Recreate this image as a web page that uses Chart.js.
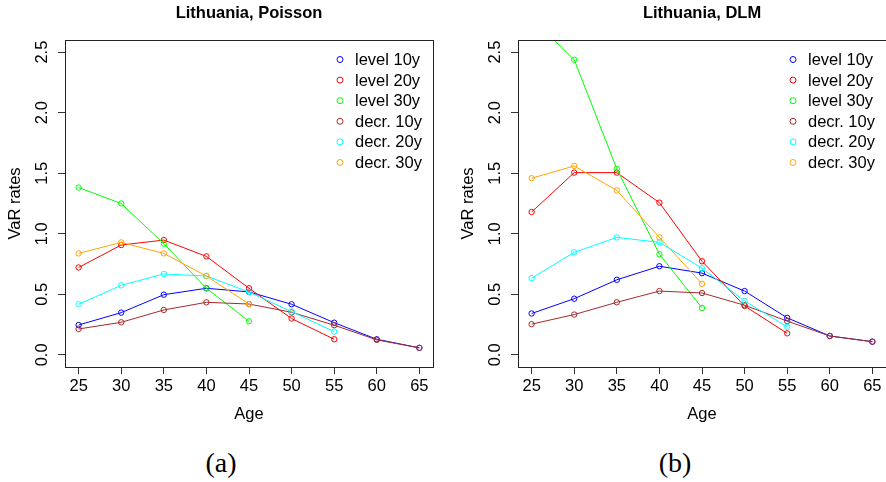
<!DOCTYPE html>
<html lang="en">
<head>
  <meta charset="UTF-8">
  <title>Lithuania VaR rates</title>
  <script src="https://cdn.jsdelivr.net/npm/chart.js"></script>
  <style>
    body {
      margin: 0;
      width: 886px;
      height: 482px;
      overflow: hidden;
      background: #fff;
      position: relative;
    }
    canvas {
      position: absolute;
      top: 0;
    }
    #left { left: 0; }
    #right { left: 453px; }
    .caption {
      position: absolute;
      top: 448px;
      width: 100px;
      height: 30px;
      line-height: 30px;
      text-align: center;
      font-family: "Liberation Serif", "Times New Roman", serif;
      font-size: 28px;
      color: #000;
    }
  </style>
</head>
<body>
  <canvas id="left" width="443" height="440"></canvas>
  <canvas id="right" width="443" height="440"></canvas>
  <div class="caption" style="left:171px">(a)</div>
  <div class="caption" style="left:625px">(b)</div>

  <script>
    // ages on the x axis and tick values
    const ages = [25, 30, 35, 40, 45, 50, 55, 60, 65];
    const yTicks = [0, 0.5, 1, 1.5, 2, 2.5];

    const seriesNames = ["level 10y", "level 20y", "level 30y", "decr. 10y", "decr. 20y", "decr. 30y"];
    const seriesColors = ["#0000FF", "#FF0000", "#00FF00", "#A52A2A", "#00FFFF", "#FFA500"];

    // Poisson (a)
    const poissonLevel10 = [0.247, 0.349, 0.497, 0.55, 0.52, 0.418, 0.266, 0.129, 0.058];
    const poissonLevel20 = [0.722, 0.907, 0.948, 0.813, 0.55, 0.30, 0.129, null, null];
    const poissonLevel30 = [1.382, 1.25, 0.918, 0.55, 0.277, null, null, null, null];
    const poissonDecr10 = [0.214, 0.269, 0.371, 0.434, 0.42, 0.352, 0.245, 0.124, 0.058];
    const poissonDecr20 = [0.418, 0.574, 0.668, 0.651, 0.519, 0.357, 0.192, null, null];
    const poissonDecr30 = [0.838, 0.929, 0.838, 0.651, 0.42, null, null, null, null];

    // DLM (b)
    const dlmLevel10 = [0.342, 0.464, 0.62, 0.732, 0.675, 0.527, 0.306, 0.156, 0.109];
    const dlmLevel20 = [1.18, 1.505, 1.505, 1.257, 0.773, 0.404, 0.178, null, null];
    const dlmLevel30 = [2.78, 2.437, 1.536, 0.831, 0.388, null, null, null, null];
    const dlmDecr10 = [0.254, 0.333, 0.434, 0.527, 0.511, 0.41, 0.279, 0.156, 0.109];
    const dlmDecr20 = [0.634, 0.847, 0.97, 0.929, 0.716, 0.445, 0.232, null, null];
    const dlmDecr30 = [1.459, 1.56, 1.358, 0.97, 0.587, null, null, null, null];

    const sans = '"Liberation Sans", Arial, sans-serif';
    const fontSize = 16.5;

    // box, title, rotated y labels and the in-plot legend
    const framePlugin = {
      id: "frame",
      afterDraw(chart, args, opts) {
        const ctx = chart.ctx;
        const a = chart.chartArea;
        const yScale = chart.scales.y;
        ctx.save();

        ctx.strokeStyle = "#222";
        ctx.lineWidth = 1;
        ctx.strokeRect(Math.round(a.left) + 0.5, Math.round(a.top) + 0.5,
          Math.round(a.right - a.left), Math.round(a.bottom - a.top));

        ctx.fillStyle = "#000";
        ctx.textAlign = "center";
        ctx.textBaseline = "middle";
        ctx.font = "bold " + fontSize + "px " + sans;
        ctx.fillText(opts.text, (a.left + a.right) / 2, 13.5);

        ctx.font = fontSize + "px " + sans;
        yTicks.forEach(v => {
          ctx.save();
          ctx.translate(42.7, yScale.getPixelForValue(v));
          ctx.rotate(-Math.PI / 2);
          ctx.fillText(v.toFixed(1), 0, 0);
          ctx.restore();
        });

        ctx.textAlign = "left";
        chart.data.datasets.forEach((ds, i) => {
          const ly = a.top + 19.5 + i * 20.6;
          ctx.beginPath();
          ctx.strokeStyle = ds.borderColor;
          ctx.lineWidth = 1;
          ctx.arc(a.right - 93, ly, 3, 0, Math.PI * 2);
          ctx.stroke();
          ctx.fillStyle = "#000";
          ctx.fillText(ds.label, a.right - 78, ly + 1);
        });
        ctx.restore();
      }
    };

    function makeChart(id, titleText, series) {
      const datasets = series.map((values, i) => ({
        label: seriesNames[i],
        data: ages.map((age, j) => ({ x: age, y: values[j] })),
        borderColor: seriesColors[i],
        pointBorderColor: seriesColors[i],
        pointBackgroundColor: "rgba(0,0,0,0)",
        borderWidth: 1,
        pointRadius: 2.7,
        pointBorderWidth: 1,
        order: series.length - i,
        spanGaps: false
      }));

      return new Chart(document.getElementById(id), {
        type: "line",
        data: { datasets: datasets },
        options: {
          responsive: false,
          animation: false,
          devicePixelRatio: 1,
          layout: { padding: { top: 40, right: 10, bottom: 0, left: 0 } },
          plugins: {
            legend: { display: false },
            tooltip: { enabled: false },
            frame: { text: titleText }
          },
          scales: {
            x: {
              type: "linear",
              min: 23.4,
              max: 66.6,
              afterBuildTicks: s => { s.ticks = ages.map(v => ({ value: v })); },
              afterFit: s => { s.height = 73; },
              grid: { drawOnChartArea: false, drawTicks: true, tickLength: 7, color: "#333" },
              border: { display: false },
              ticks: {
                color: "#000",
                padding: 3,
                maxRotation: 0,
                autoSkip: false,
                font: { family: sans, size: fontSize }
              },
              title: {
                display: true,
                text: "Age",
                color: "#000",
                font: { family: sans, size: fontSize },
                padding: { top: 0, bottom: 16 }
              }
            },
            y: {
              type: "linear",
              min: -0.1,
              max: 2.6,
              afterBuildTicks: s => { s.ticks = yTicks.map(v => ({ value: v })); },
              afterFit: s => { s.width = 65; },
              grid: { drawOnChartArea: false, drawTicks: true, tickLength: 7, color: "#333" },
              border: { display: false },
              ticks: { display: false },
              title: {
                display: true,
                text: "VaR rates",
                color: "#000",
                font: { family: sans, size: fontSize },
                padding: { top: 5.8, bottom: 0 }
              }
            }
          }
        },
        plugins: [framePlugin]
      });
    }

    makeChart("left", "Lithuania, Poisson",
      [poissonLevel10, poissonLevel20, poissonLevel30, poissonDecr10, poissonDecr20, poissonDecr30]);
    makeChart("right", "Lithuania, DLM",
      [dlmLevel10, dlmLevel20, dlmLevel30, dlmDecr10, dlmDecr20, dlmDecr30]);
  </script>
</body>
</html>
